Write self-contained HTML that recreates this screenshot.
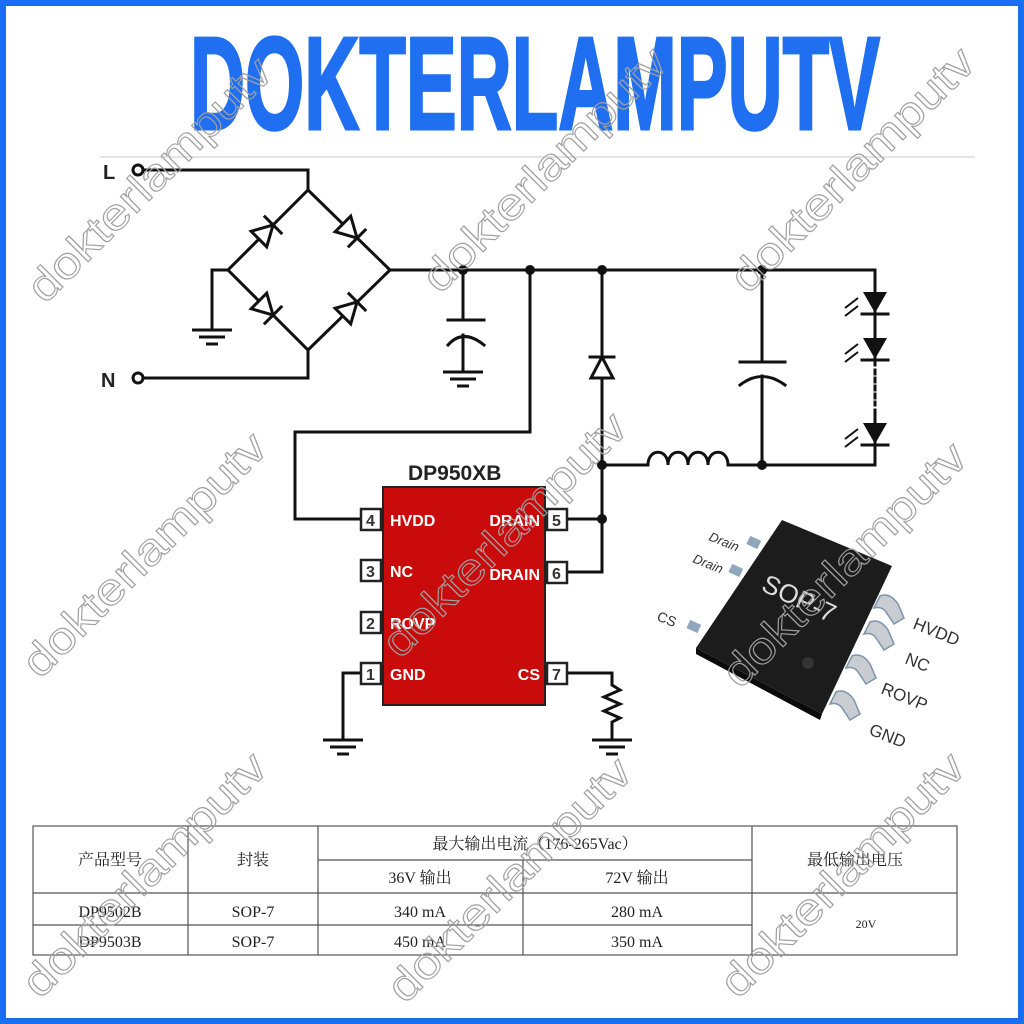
<!DOCTYPE html>
<html><head><meta charset="utf-8"><style>
html,body{margin:0;padding:0;background:#fff}
svg{display:block}
</style></head><body>
<svg width="1024" height="1024" viewBox="0 0 1024 1024" xmlns="http://www.w3.org/2000/svg">
<defs>
<g id="dio"><polygon points="-10,-11 -10,11 10,0" fill="#fff" stroke="#111" stroke-width="3"/><line x1="10" y1="-13" x2="10" y2="13" stroke="#111" stroke-width="3"/></g>
</defs>
<rect x="0" y="0" width="1024" height="1024" fill="#fff"/>
<rect x="3" y="3" width="1018" height="1018" fill="none" stroke="#1a6ef2" stroke-width="6"/>
<text x="190" y="129" font-family="Liberation Sans" font-weight="bold" font-size="132" fill="#1f6ff0" stroke="#1f6ff0" stroke-width="3" textLength="690" lengthAdjust="spacingAndGlyphs">DOKTERLAMPUTV</text>
<line x1="100" y1="157" x2="975" y2="157" stroke="#e4e4e4" stroke-width="2"/>

<g stroke="#111" stroke-width="3" fill="none" stroke-linecap="square">
<circle cx="138" cy="170" r="5"/>
<circle cx="138" cy="378" r="5"/>
<polyline points="143,170 308,170 308,190"/>
<polyline points="143,378 308,378 308,350"/>
<polygon points="308,190 390,270 308,350 228,270"/>
<polyline points="228,270 212,270 212,330"/>
<line x1="390" y1="270" x2="875" y2="270"/>
<line x1="463" y1="270" x2="463" y2="320"/>
<line x1="448" y1="320" x2="484" y2="320"/>
<path d="M448,345 Q463,328 484,345"/>
<line x1="463" y1="335" x2="463" y2="372"/>
<polyline points="530,270 530,432 295,432 295,519 360,519"/>
<line x1="602" y1="270" x2="602" y2="519"/>
<polyline points="602,519 602,572 567,572"/>
<line x1="567" y1="519" x2="602" y2="519"/>
<line x1="590" y1="357" x2="614" y2="357"/>
<polygon points="602,357 591,378 613,378" fill="#fff"/>
<line x1="602" y1="465" x2="648" y2="465"/>
<path d="M648,465 C648,448 668,448 668,465 C668,448 688,448 688,465 C688,448 708,448 708,465 C708,448 728,448 728,465"/>
<line x1="728" y1="465" x2="875" y2="465"/>
<line x1="762" y1="270" x2="762" y2="362"/>
<line x1="740" y1="362" x2="785" y2="362"/>
<path d="M740,385 Q762,368 785,385"/>
<line x1="762" y1="376" x2="762" y2="465"/>
<line x1="875" y1="270" x2="875" y2="365"/>
<line x1="875" y1="410" x2="875" y2="465"/>
<line x1="875" y1="370" x2="875" y2="405" stroke-dasharray="4,4"/>
<line x1="862" y1="314" x2="888" y2="314"/>
<line x1="862" y1="360" x2="888" y2="360"/>
<line x1="862" y1="445" x2="888" y2="445"/>
<polyline points="360,673 343,673 343,740"/>
<polyline points="567,673 612,673 612,685 620,690 604,697 620,704 604,711 620,718 612,722 612,740"/>
</g>
<use href="#dio" transform="translate(266,232) rotate(-45)"/>
<use href="#dio" transform="translate(350,231) rotate(45)"/>
<use href="#dio" transform="translate(266,308) rotate(45)"/>
<use href="#dio" transform="translate(350,309) rotate(-45)"/>
<g fill="#111">
<polygon points="863,292 887,292 875,313"/>
<polygon points="863,338 887,338 875,359"/>
<polygon points="863,423 887,423 875,444"/>
<circle cx="463" cy="270" r="5"/><circle cx="530" cy="270" r="5"/><circle cx="602" cy="270" r="5"/><circle cx="762" cy="270" r="5"/>
<circle cx="602" cy="465" r="5"/><circle cx="762" cy="465" r="5"/><circle cx="602" cy="519" r="5"/>
</g>
<g stroke="#111" stroke-width="2" fill="#111">
<line x1="858" y1="298" x2="845" y2="308"/><line x1="858" y1="306" x2="845" y2="316"/>
<line x1="858" y1="344" x2="845" y2="354"/><line x1="858" y1="352" x2="845" y2="362"/>
<line x1="858" y1="429" x2="845" y2="439"/><line x1="858" y1="437" x2="845" y2="447"/>
</g>
<g stroke="#111" stroke-width="3">
<g transform="translate(212,330)"><line x1="-20" y1="0" x2="20" y2="0"/><line x1="-13" y1="7" x2="13" y2="7"/><line x1="-6" y1="14" x2="6" y2="14"/></g>
<g transform="translate(463,372)"><line x1="-20" y1="0" x2="20" y2="0"/><line x1="-13" y1="7" x2="13" y2="7"/><line x1="-6" y1="14" x2="6" y2="14"/></g>
<g transform="translate(343,740)"><line x1="-20" y1="0" x2="20" y2="0"/><line x1="-13" y1="7" x2="13" y2="7"/><line x1="-6" y1="14" x2="6" y2="14"/></g>
<g transform="translate(612,740)"><line x1="-20" y1="0" x2="20" y2="0"/><line x1="-13" y1="7" x2="13" y2="7"/><line x1="-6" y1="14" x2="6" y2="14"/></g>
</g>
<g font-family="Liberation Sans" font-weight="bold" fill="#222">
<text x="103" y="179" font-size="20">L</text>
<text x="101" y="387" font-size="20">N</text>
<text x="408" y="480" font-size="21">DP950XB</text>
</g>
<rect x="383" y="487" width="162" height="218" fill="#c90b0b" stroke="#222" stroke-width="2"/>
<g fill="#fff" stroke="#222" stroke-width="2.5">
<rect x="361" y="509" width="20" height="21"/><rect x="361" y="560" width="20" height="21"/>
<rect x="361" y="612" width="20" height="21"/><rect x="361" y="663" width="20" height="21"/>
<rect x="547" y="509" width="20" height="21"/><rect x="547" y="562" width="20" height="21"/>
<rect x="547" y="663" width="20" height="21"/>
</g>
<g font-family="Liberation Sans" font-weight="bold" font-size="16" fill="#333">
<text x="366" y="526">4</text><text x="366" y="577">3</text><text x="366" y="629">2</text><text x="366" y="680">1</text>
<text x="552" y="526">5</text><text x="552" y="579">6</text><text x="552" y="680">7</text>
</g>
<g font-family="Liberation Sans" font-weight="bold" font-size="16" fill="#fff">
<text x="390" y="526">HVDD</text><text x="390" y="577">NC</text><text x="390" y="629">ROVP</text><text x="390" y="680">GND</text>
<text x="540" y="526" text-anchor="end">DRAIN</text><text x="540" y="580" text-anchor="end">DRAIN</text><text x="540" y="680" text-anchor="end">CS</text>
</g>
<g>
<g fill="#8fa6bd">
<rect x="748" y="538" width="12" height="9" transform="rotate(25 754 542)"/>
<rect x="730" y="566" width="12" height="9" transform="rotate(25 736 570)"/>
<rect x="688" y="622" width="12" height="9" transform="rotate(25 694 626)"/>
</g>
<g fill="#c9cdd2" stroke="#7d94ab" stroke-width="1.5">
<path d="M880,596 q10,-4 18,8 l6,14 -10,6 -8,-12 q-4,-6 -12,-4z"/>
<path d="M870,622 q10,-4 18,8 l6,14 -10,6 -8,-12 q-4,-6 -12,-4z"/>
<path d="M852,656 q10,-4 18,8 l6,14 -10,6 -8,-12 q-4,-6 -12,-4z"/>
<path d="M836,692 q10,-4 18,8 l6,14 -10,6 -8,-12 q-4,-6 -12,-4z"/>
</g>
<polygon points="782,520 892,566 822,714 696,648" fill="#1c1c1c"/>
<polygon points="696,648 822,714 820,720 696,654" fill="#0a0a0a"/>
<circle cx="808" cy="663" r="6" fill="#333"/>
<text x="760" y="590" font-family="Liberation Sans" font-size="26" fill="#ddd" transform="rotate(25 760 590)">SOP-7</text>
<g font-family="Liberation Sans" font-size="15" fill="#333">
<text x="708" y="540" transform="rotate(22 708 540)" font-style="italic" font-size="13">Drain</text>
<text x="692" y="562" transform="rotate(22 692 562)" font-style="italic" font-size="13">Drain</text>
<text x="656" y="620" transform="rotate(22 656 620)" font-size="14">CS</text>
<text x="912" y="628" transform="rotate(22 912 628)" font-size="17">HVDD</text>
<text x="904" y="663" transform="rotate(22 904 663)" font-size="17">NC</text>
<text x="880" y="693" transform="rotate(22 880 693)" font-size="17">ROVP</text>
<text x="868" y="734" transform="rotate(22 868 734)" font-size="17">GND</text>
</g>
</g>
<g stroke="#555" stroke-width="1.2" fill="none">
<rect x="33" y="826" width="924" height="129"/>
<line x1="318" y1="860" x2="752" y2="860"/>
<line x1="33" y1="893" x2="957" y2="893"/>
<line x1="33" y1="925" x2="752" y2="925"/>
<line x1="188" y1="826" x2="188" y2="955"/>
<line x1="318" y1="826" x2="318" y2="955"/>
<line x1="523" y1="860" x2="523" y2="955"/>
<line x1="752" y1="826" x2="752" y2="955"/>
</g>
<g font-family="Liberation Serif, 'Noto Serif CJK SC', serif" font-size="16" fill="#222" text-anchor="middle">
<text x="110" y="865">产品型号</text>
<text x="253" y="865">封装</text>
<text x="535" y="849">最大输出电流（176-265Vac）</text>
<text x="420" y="883">36V 输出</text>
<text x="637" y="883">72V 输出</text>
<text x="855" y="865">最低输出电压</text>
<text x="110" y="917">DP9502B</text><text x="253" y="917">SOP-7</text><text x="420" y="917">340 mA</text><text x="637" y="917">280 mA</text>
<text x="110" y="947">DP9503B</text><text x="253" y="947">SOP-7</text><text x="420" y="947">450 mA</text><text x="637" y="947">350 mA</text>
<text x="866" y="928" font-size="12">20V</text>
</g>
<g font-family="Liberation Sans" font-size="44" fill="none" stroke="#a0a0a0" stroke-width="1.1">
<text transform="translate(45,305) rotate(-45)" textLength="325" lengthAdjust="spacingAndGlyphs">dokterlamputv</text>
<text transform="translate(440,295) rotate(-45)" textLength="325" lengthAdjust="spacingAndGlyphs">dokterlamputv</text>
<text transform="translate(748,295) rotate(-45)" textLength="325" lengthAdjust="spacingAndGlyphs">dokterlamputv</text>
<text transform="translate(40,680) rotate(-45)" textLength="325" lengthAdjust="spacingAndGlyphs">dokterlamputv</text>
<text transform="translate(400,660) rotate(-45)" textLength="325" lengthAdjust="spacingAndGlyphs">dokterlamputv</text>
<text transform="translate(740,690) rotate(-45)" textLength="325" lengthAdjust="spacingAndGlyphs">dokterlamputv</text>
<text transform="translate(40,1000) rotate(-45)" textLength="325" lengthAdjust="spacingAndGlyphs">dokterlamputv</text>
<text transform="translate(405,1005) rotate(-45)" textLength="325" lengthAdjust="spacingAndGlyphs">dokterlamputv</text>
<text transform="translate(738,1000) rotate(-45)" textLength="325" lengthAdjust="spacingAndGlyphs">dokterlamputv</text>
</g>
</svg>
</body></html>
